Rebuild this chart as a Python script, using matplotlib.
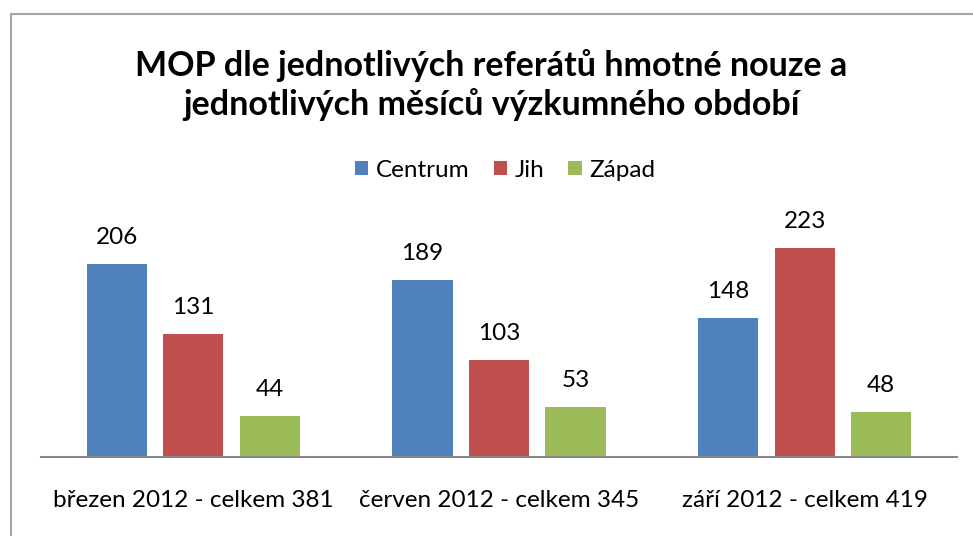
import matplotlib.pyplot as plt
from matplotlib.patches import Rectangle
import numpy as np

categories = ['březen 2012 - celkem 381', 'červen 2012 - celkem 345', 'září 2012 - celkem 419']
series_names = ['Centrum', 'Jih', 'Západ']
centrum = [206, 189, 148]
jih = [131, 103, 223]
zapad = [44, 53, 48]
colors = ['#4F81BD', '#C0504D', '#9BBB59']

plt.rcParams['font.family'] = ['Lato', 'DejaVu Sans']

W, H = 973, 536
fig = plt.figure(figsize=(W / 100, H / 100), dpi=100)

# light grey frame round the chart area
fig.patches.append(Rectangle((11 / W, -0.01), 1.0, 1 - 14 / H + 0.01, transform=fig.transFigure,
                             fill=False, edgecolor='#A6A6A6', linewidth=1.5))

ax = fig.add_axes([40.5 / W, (H - 457) / H, 917 / W, 234.5 / H])
x = np.arange(len(categories))
for i, (vals, name) in enumerate(zip([centrum, jih, zapad], series_names)):
    bars = ax.bar(x + (i - 1) * 0.25, vals, width=0.197, color=colors[i], label=name)
    for b, v in zip(bars, vals):
        ax.annotate(str(v), (b.get_x() + b.get_width() / 2, v), xytext=(0, 19),
                    textcoords='offset points', ha='center', va='center', fontsize=17.5)

ax.set_xlim(-0.5, 2.5)
ax.set_ylim(0, 250)
ax.set_yticks([])
ax.set_xticks(x)
ax.set_xticklabels(categories, fontsize=17.5)
ax.tick_params(axis='x', length=0, pad=24)
for s in ['top', 'right', 'left']:
    ax.spines[s].set_visible(False)
ax.spines['bottom'].set_color('#868686')
ax.spines['bottom'].set_linewidth(1.5)

fig.text(491 / W, 1 - 85 / H, 'MOP dle jednotlivých referátů hmotné nouze a\njednotlivých měsíců výzkumného období',
         ha='center', va='center', fontsize=24.5, fontweight='bold', linespacing=1.2)

fig.legend(loc='center', bbox_to_anchor=(505 / W, 1 - 170 / H), ncol=3, frameon=False,
           fontsize=17.5, handlelength=0.55, handleheight=0.55, handletextpad=0.3, columnspacing=1.0)

fig.savefig('out.png', dpi=100)
